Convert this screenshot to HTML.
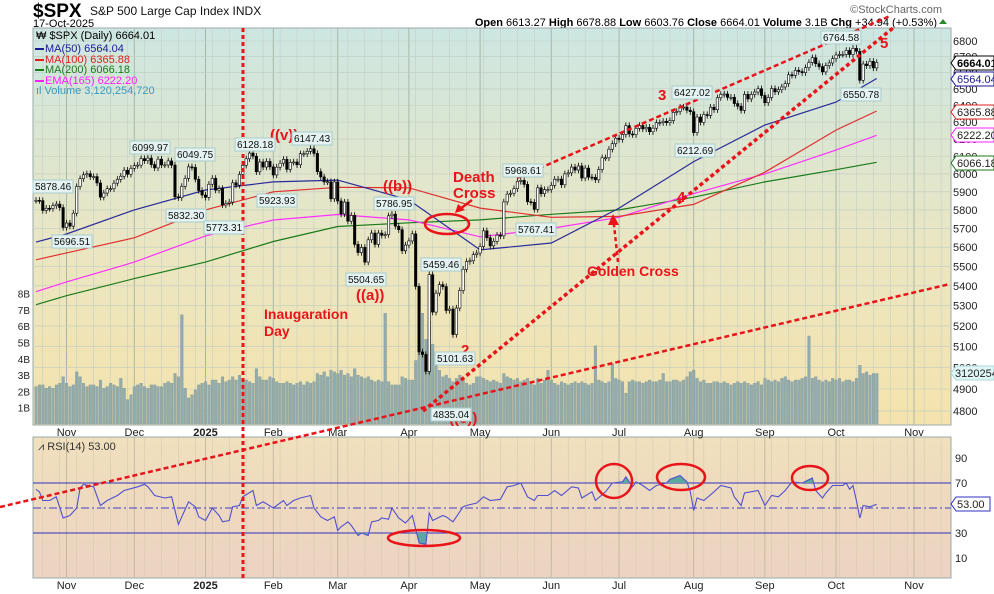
<!DOCTYPE html>
<html><head><meta charset="utf-8"><style>
html,body{margin:0;padding:0;background:#fff;}
svg{display:block;font-family:"Liberation Sans",sans-serif;}
</style></head><body>
<svg id="chart" width="994" height="594" viewBox="0 0 994 594" xmlns="http://www.w3.org/2000/svg">
<defs>
<linearGradient id="pbg" x1="0" y1="0" x2="0" y2="1"><stop offset="0" stop-color="#cde6e2"/><stop offset="0.55" stop-color="#eae6c2"/><stop offset="1" stop-color="#f5e3ad"/></linearGradient>
<linearGradient id="rbg" x1="0" y1="0" x2="0" y2="1"><stop offset="0" stop-color="#f0e0bd"/><stop offset="1" stop-color="#ecd3c2"/></linearGradient>
<clipPath id="pclip"><rect x="33" y="28" width="918" height="397"/></clipPath>
<clipPath id="rclip"><rect x="33" y="437" width="918" height="141"/></clipPath>
<clipPath id="above70"><rect x="33" y="437" width="918" height="46"/></clipPath>
<clipPath id="below30"><rect x="33" y="533" width="918" height="45"/></clipPath>
</defs>
<g>
<text x="33" y="17" font-size="19" font-weight="bold" fill="#000">$SPX</text>
<text x="90" y="15" font-size="12" fill="#111">S&amp;P 500 Large Cap Index  INDX</text>
<text x="33" y="27" font-size="11" fill="#000">17-Oct-2025</text>
<text x="942" y="13" font-size="11" fill="#666" text-anchor="end">©StockCharts.com</text>
<text x="937" y="26" font-size="11" fill="#000" text-anchor="end"><tspan font-weight="bold">Open</tspan> 6613.27  <tspan font-weight="bold">High</tspan> 6678.88  <tspan font-weight="bold">Low</tspan> 6603.76  <tspan font-weight="bold">Close</tspan> 6664.01  <tspan font-weight="bold">Volume</tspan> 3.1B  <tspan font-weight="bold">Chg</tspan> +34.94 (+0.53%)</text>
<polygon points="939,24 947,24 943,19" fill="#2a8a2a"/>
</g>
<rect x="33" y="28" width="918" height="397" fill="url(#pbg)" stroke="#9aa9a9"/>
<rect x="33" y="437" width="918" height="141" fill="url(#rbg)" stroke="#9aa9a9"/>
<g id="grid"></g>
<g id="vol" clip-path="url(#pclip)"></g>
<g id="mas" clip-path="url(#pclip)"></g>
<g id="candles" clip-path="url(#pclip)"></g>
<g id="rsi" clip-path="url(#rclip)"></g>
<g id="axes"></g>
<g font-size="11">
<text x="36" y="39" fill="#000">₩ $SPX (Daily) 6664.01</text>
<line x1="35" y1="49" x2="44" y2="49" stroke="#1a1a9a" stroke-width="2"/><text x="45" y="52" fill="#1a1a9a">MA(50) 6564.04</text>
<line x1="35" y1="60" x2="44" y2="60" stroke="#e02020" stroke-width="2"/><text x="45" y="63" fill="#e02020">MA(100) 6365.88</text>
<line x1="35" y1="70" x2="44" y2="70" stroke="#1a7a1a" stroke-width="2"/><text x="45" y="73" fill="#1a7a1a">MA(200) 6066.18</text>
<line x1="35" y1="81" x2="44" y2="81" stroke="#ff20ff" stroke-width="2"/><text x="45" y="84" fill="#ff20ff">EMA(165) 6222.20</text>
<text x="36" y="94" fill="#3a9ac0">ıl Volume 3,120,254,720</text>
</g>
<text x="38" y="450" font-size="11" fill="#333">⩘ RSI(14) 53.00</text>
<g id="annotations">
<line x1="243" y1="28" x2="243" y2="578" stroke="#e8141a" stroke-width="3" stroke-dasharray="4,3"/>
<line x1="0" y1="507" x2="950" y2="284" stroke="#e8141a" stroke-width="2.5" stroke-dasharray="5,3"/>
<line x1="423" y1="411" x2="893" y2="28" stroke="#e8141a" stroke-width="3.5" stroke-dasharray="4,3"/>
<line x1="517" y1="178" x2="890" y2="16" stroke="#e8141a" stroke-width="2.5" stroke-dasharray="5,3"/>
<ellipse cx="447" cy="224" rx="22" ry="10" fill="none" stroke="#e8141a" stroke-width="2.5"/>
<ellipse cx="424" cy="538" rx="36" ry="8" fill="none" stroke="#e8141a" stroke-width="2.5"/>
<ellipse cx="614" cy="481" rx="18" ry="17" fill="none" stroke="#e8141a" stroke-width="2.5"/>
<ellipse cx="681" cy="477" rx="24" ry="13" fill="none" stroke="#e8141a" stroke-width="2.5"/>
<ellipse cx="810" cy="478" rx="18" ry="12" fill="none" stroke="#e8141a" stroke-width="2.5"/>
<line x1="472" y1="200" x2="460" y2="209" stroke="#e8141a" stroke-width="2.5"/>
<polygon points="455,213 458,204 465,210" fill="#e8141a"/>
<line x1="618" y1="262" x2="614" y2="225" stroke="#e8141a" stroke-width="2.5" stroke-dasharray="4,3"/>
<polygon points="613,214 608,225 619,225" fill="#e8141a"/>
<g font-weight="bold" fill="#e8141a" font-size="14">
<text x="453" y="182" font-size="15">Death</text>
<text x="453" y="198" font-size="15">Cross</text>
<text x="587" y="276">Golden Cross</text>
<text x="264" y="319">Inaugaration</text>
<text x="264" y="336">Day</text>
<text x="270" y="140" font-size="15">((v))</text>
<text x="383" y="191" font-size="15">((b))</text>
<text x="356" y="300" font-size="15">((a))</text>
<text x="449" y="423" font-size="15">((c))</text>
<text x="435" y="268" font-size="15">1</text>
<text x="461" y="355" font-size="15">2</text>
<text x="658" y="100" font-size="15">3</text>
<text x="677" y="202" font-size="15">4</text>
<text x="880" y="48" font-size="15">5</text>
</g>
<g font-size="10" fill="#111">
<g><rect x="33" y="180" width="40" height="13" fill="#e4f2f2" stroke="#a8cccc"/><text x="35" y="190">5878.46</text></g>
<g><rect x="52" y="235" width="40" height="13" fill="#e4f2f2" stroke="#a8cccc"/><text x="54" y="245">5696.51</text></g>
<g><rect x="130" y="141" width="40" height="13" fill="#e4f2f2" stroke="#a8cccc"/><text x="132" y="151">6099.97</text></g>
<g><rect x="175" y="148" width="40" height="13" fill="#e4f2f2" stroke="#a8cccc"/><text x="177" y="158">6049.75</text></g>
<g><rect x="166" y="209" width="40" height="13" fill="#e4f2f2" stroke="#a8cccc"/><text x="168" y="219">5832.30</text></g>
<g><rect x="204" y="221" width="40" height="13" fill="#e4f2f2" stroke="#a8cccc"/><text x="206" y="231">5773.31</text></g>
<g><rect x="235" y="138" width="40" height="13" fill="#e4f2f2" stroke="#a8cccc"/><text x="237" y="148">6128.18</text></g>
<g><rect x="257" y="194" width="40" height="13" fill="#e4f2f2" stroke="#a8cccc"/><text x="259" y="204">5923.93</text></g>
<g><rect x="292" y="132" width="40" height="13" fill="#e4f2f2" stroke="#a8cccc"/><text x="294" y="142">6147.43</text></g>
<g><rect x="374" y="197" width="40" height="13" fill="#e4f2f2" stroke="#a8cccc"/><text x="376" y="207">5786.95</text></g>
<g><rect x="346" y="273" width="40" height="13" fill="#e4f2f2" stroke="#a8cccc"/><text x="348" y="283">5504.65</text></g>
<g><rect x="421" y="258" width="40" height="13" fill="#e4f2f2" stroke="#a8cccc"/><text x="423" y="268">5459.46</text></g>
<g><rect x="435" y="352" width="40" height="13" fill="#e4f2f2" stroke="#a8cccc"/><text x="437" y="362">5101.63</text></g>
<g><rect x="431" y="408" width="40" height="13" fill="#e4f2f2" stroke="#a8cccc"/><text x="433" y="418">4835.04</text></g>
<g><rect x="503" y="164" width="40" height="13" fill="#e4f2f2" stroke="#a8cccc"/><text x="505" y="174">5968.61</text></g>
<g><rect x="516" y="223" width="40" height="13" fill="#e4f2f2" stroke="#a8cccc"/><text x="518" y="233">5767.41</text></g>
<g><rect x="672" y="86" width="40" height="13" fill="#e4f2f2" stroke="#a8cccc"/><text x="674" y="96">6427.02</text></g>
<g><rect x="675" y="144" width="40" height="13" fill="#e4f2f2" stroke="#a8cccc"/><text x="677" y="154">6212.69</text></g>
<g><rect x="821" y="31" width="40" height="13" fill="#e4f2f2" stroke="#a8cccc"/><text x="823" y="41">6764.58</text></g>
<g><rect x="841" y="88" width="40" height="13" fill="#e4f2f2" stroke="#a8cccc"/><text x="843" y="98">6550.78</text></g>
</g>
<g font-size="11">
<g><polygon points="951,63 956,56 994,56 994,70 956,70" fill="#fff" stroke="#000"/><text x="957" y="67" font-weight="bold" fill="#000">6664.01</text></g>
<g><polygon points="951,79 956,72 994,72 994,86 956,86" fill="#fff" stroke="#1a1a9a"/><text x="957" y="83" fill="#1a1a9a">6564.04</text></g>
<g><polygon points="951,112 956,105 994,105 994,119 956,119" fill="#fff" stroke="#e02020"/><text x="957" y="116" fill="#222">6365.88</text></g>
<g><polygon points="951,135 956,128 994,128 994,142 956,142" fill="#fff" stroke="#ff20ff"/><text x="957" y="139" fill="#222">6222.20</text></g>
<g><polygon points="951,163 956,156 994,156 994,170 956,170" fill="#fff" stroke="#1a7a1a"/><text x="957" y="167" fill="#222">6066.18</text></g>
<g><polygon points="951,373 956,366 994,366 994,380 956,380" fill="#e0f6f6" stroke="#a8d8d8"/><text x="955" y="377" fill="#222">3120254</text></g>
<g><polygon points="951,504 956,497 990,497 990,511 956,511" fill="#fff" stroke="#3030c0"/><text x="957" y="508" fill="#222">53.00</text></g>
</g>
</g>
</svg>
<script>
const closes=[
5853,5851,5797,5809,5808,5823,5832,5813,5705,
5729,5712,5782,5929,5973,5995,6001,5984,5985,5949,5870,5893,5917,5917,5948,5969,5987,6021,5998,6032,
6047,6050,6087,6075,6090,6053,6034,6084,6051,6051,6074,6050,5872,5867,5930,5975,6040,6037,5970,5907,5882,
5869,5942,5975,5909,5918,5827,5836,5843,5950,5937,5997,6049,6086,6119,6101,6012,6068,6039,6071,6040,
5994,6038,6061,6083,6026,6066,6068,6052,6115,6115,6129,6144,6117,6013,5983,5955,5956,5861,5955,
5849,5778,5843,5739,5770,5615,5572,5599,5522,5639,5675,5615,5675,5663,5667,5768,5777,5712,5693,5581,5611,
5633,5671,5397,5074,5062,4982,5457,5268,5363,5406,5396,5276,5283,5158,5288,5376,5485,5525,5529,5561,5569,
5604,5687,5650,5607,5631,5664,5660,5844,5887,5892,5917,5958,5964,5941,5845,5842,5803,5922,5889,5912,5912,
5936,5970,5971,5939,6000,6006,6039,6022,6045,5977,6033,5982,5981,5967,6025,6092,6092,6141,6173,6205,
6198,6227,6279,6230,6226,6263,6280,6260,6269,6243,6264,6297,6297,6305,6297,6309,6358,6363,6389,6390,6371,6362,
6238,6330,6299,6345,6340,6389,6374,6446,6466,6469,6449,6449,6411,6395,6370,6467,6439,6466,6481,6501,6460,
6416,6448,6502,6482,6495,6512,6532,6587,6584,6615,6607,6600,6631,6664,6694,6656,6638,6605,6644,6661,6688,
6711,6715,6715,6740,6714,6753,6735,6553,6654,6644,6671,6630,6664];
const volumes=[
2.3,2.4,2.4,2.2,2.3,2.2,2.4,2.5,2.9,
2.5,2.3,2.4,3.2,2.9,2.5,2.3,2.4,2.4,2.3,2.7,2.2,2.3,2.5,2.4,2.3,2.8,2.2,1.5,1.8,
2.3,2.4,2.5,2.3,2.2,2.4,2.4,2.3,2.3,2.5,2.6,2.5,3.1,2.9,6.7,2.2,1.6,1.8,2.1,2.4,2.5,
2.6,2.4,2.7,2.7,2.5,2.9,2.6,2.7,2.9,2.7,3.0,2.8,2.7,2.6,2.5,3.4,2.9,2.7,2.7,2.9,
2.8,2.6,2.5,2.5,2.6,2.5,2.4,2.5,2.6,2.4,2.6,2.5,2.6,3.1,3.0,3.2,2.9,3.3,3.2,
3.1,3.3,3.0,3.1,2.9,3.4,3.0,2.9,2.8,2.9,2.7,2.6,2.7,2.6,6.8,2.6,2.4,2.4,2.4,2.9,2.8,
2.7,2.7,3.9,5.0,6.8,5.2,6.3,4.9,3.8,3.3,2.9,3.0,2.8,2.6,2.8,3.0,2.7,2.5,2.4,2.5,2.9,
2.9,2.8,2.7,2.6,2.7,2.6,2.5,3.1,2.9,2.8,2.7,2.8,2.6,2.7,2.8,2.5,2.4,2.8,2.5,2.7,3.3,
2.7,2.5,2.4,2.6,2.5,2.4,2.5,2.6,2.5,2.6,2.5,2.4,2.5,4.8,2.7,2.6,2.5,2.6,3.7,2.8,
2.7,2.6,1.9,2.6,2.7,2.6,2.6,2.5,2.6,2.7,2.6,2.6,2.7,3.1,2.6,2.6,2.7,2.7,2.6,2.7,2.9,3.2,
3.3,2.8,2.6,2.7,2.5,2.5,2.6,2.6,2.5,2.6,2.5,2.4,2.5,2.6,2.5,2.6,2.5,2.4,2.5,2.6,2.4,
2.8,2.7,2.6,2.7,2.6,2.8,2.9,2.7,2.6,2.7,2.7,2.8,2.9,5.4,2.8,2.9,2.7,2.6,2.7,2.6,2.8,
2.7,2.8,2.6,2.7,2.7,2.6,2.8,3.6,3.1,3.2,3.0,3.1,3.1];
const monthDays=[0,9,29,50,70,89,110,131,152,172,194,215,236,248];
const monthLabels=["Nov","Dec","2025","Feb","Mar","Apr","May","Jun","Jul","Aug","Sep","Oct","Nov"];
const monthTickDays=[9,29,50,70,89,110,131,152,172,194,215,236,259];
const ma50=[5627,5670,5800,5910,5955,5965,5855,5586,5622,5810,6070,6283,6420,6564];
const ma100=[5534,5570,5650,5800,5900,5925,5922,5810,5760,5765,5830,6010,6253,6366];
const ma200=[5305,5350,5437,5522,5630,5710,5730,5746,5776,5800,5870,5955,6024,6066];
const ema165=[5370,5420,5522,5660,5745,5775,5746,5655,5700,5760,5890,6000,6136,6222];
const rsiDay=[0,1,2,4,6,8,10,12,13,14,17,19,21,24,26,30,32,33,35,38,40,42,43,45,47,48,50,52,54,55,57,58,60,61,64,65,67,70,73,74,76,78,81,82,84,86,88,89,90,92,93,95,96,98,99,101,102,104,105,107,109,111,113,115,116,117,120,121,123,126,127,130,132,134,137,139,141,143,145,147,148,151,153,155,158,160,161,164,165,168,170,173,174,176,177,179,181,183,186,187,190,192,193,194,195,197,200,202,205,206,208,209,213,215,217,219,221,223,226,229,230,232,233,235,238,239,240,241,242,243,244,246,247,248];
const rsiVal=[65,63,56,56,59,42,44,50,66,69,67,52,56,60,64,67,69,67,60,58,59,37,43,55,51,43,40,50,44,39,40,51,52,59,64,52,55,50,56,52,56,58,60,50,43,40,43,32,35,39,36,28,30,28,39,40,42,41,50,42,38,44,22,21,46,40,44,43,39,51,52,54,59,56,57,67,68,70,59,56,60,60,64,60,67,66,58,63,56,63,70,71,75,67,71,68,64,68,70,73,76,71,63,48,58,56,63,68,66,59,52,62,64,52,60,59,64,71,70,74,64,58,62,68,68,70,65,68,56,42,52,51,52,53];
const priceTicks=[4800,4900,5000,5100,5200,5300,5400,5500,5600,5700,5800,5900,6000,6100,6200,6300,6400,6500,6600,6700,6800];
const volTicks=[1,2,3,4,5,6,7,8];
const rsiTicks=[10,30,70,90];

const NS="http://www.w3.org/2000/svg";
const yP=p=>41+(Math.log(6800)-Math.log(p))*1062;
const xI=i=>36+i*3.39;
const yV=v=>424-v*16.3;
const yR=v=>533-(v-30)*1.25;
function mk(tag,attrs,parent){const e=document.createElementNS(NS,tag);for(const k in attrs)e.setAttribute(k,attrs[k]);parent.appendChild(e);return e;}
const grid=document.getElementById('grid');
for(let i=2;i<=268;i+=5){
 const gl=mk('line',{x1:xI(i),x2:xI(i),y1:28,y2:425,stroke:'#c4cfc4','stroke-width':0.6},grid);
 
 
 const gr=mk('line',{x1:xI(i),x2:xI(i),y1:437,y2:578,stroke:'#d8c8b0','stroke-width':0.6},grid);
 
 
}
monthTickDays.forEach((d,k)=>{
 const x=xI(d);
 const g1=mk('line',{x1:x,x2:x,y1:28,y2:425,stroke:'#a8b8a8','stroke-width':1},grid);
 
 
 const g2=mk('line',{x1:x,x2:x,y1:437,y2:578,stroke:'#c8b8a0','stroke-width':1},grid);
 
 
 [436,589].forEach(yy=>{
  const t=mk('text',{x:x,y:yy,'font-size':11,'text-anchor':'middle',fill:'#222','font-weight':monthLabels[k]==='2025'?'bold':'normal'},grid);
  t.textContent=monthLabels[k];
  
  
 });
});
const axes=document.getElementById('axes');
priceTicks.forEach(p=>{
 const y=yP(p);
 const l=mk('line',{x1:33,x2:951,y1:y,y2:y,stroke:'#c0ccc0','stroke-width':0.6},grid);
 
 
 const t=mk('text',{x:953,y:y+4,'font-size':11,fill:'#222'},axes);
 t.textContent=p;
 
 
});
volTicks.forEach(v=>{
 const t=mk('text',{x:30,y:yV(v)+4,'font-size':10,fill:'#222','text-anchor':'end'},axes);
 t.textContent=v+'B';
 
 
});
rsiTicks.forEach(v=>{
 const t=mk('text',{x:955,y:yR(v)+4,'font-size':11,fill:'#222'},axes);
 t.textContent=v;
 
 
});
const vg=document.getElementById('vol');
volumes.forEach((v,i)=>{
 const r=mk('rect',{x:xI(i)-1.3,y:yV(v),width:2.7,height:424-yV(v),fill:'#93abab',stroke:'#7f9797','stroke-width':0.3},vg);
 
 
});
const mg=document.getElementById('mas');
[[ma200,'#1a7a1a','ma200-line'],[ema165,'#ff30ff','ema165-line'],[ma100,'#e03030','ma100-line'],[ma50,'#2a2a9a','ma50-line']].forEach(([arr,col,nm])=>{
 const pts=arr.map((v,k)=>xI(monthDays[k]).toFixed(1)+','+yP(v).toFixed(1)).join(' ');
 const pl=mk('polyline',{points:pts,fill:'none',stroke:col,'stroke-width':1.2},mg);
 
 
});
const cg=document.getElementById('candles');
closes.forEach((c,i)=>{
 const o=i?closes[i-1]:c;
 const hi=Math.max(o,c)*1.003, lo=Math.min(o,c)*0.997;
 const x=xI(i);
 const w=mk('line',{x1:x,x2:x,y1:yP(hi),y2:yP(lo),stroke:'#000','stroke-width':0.8},cg);
 
 
 const top=yP(Math.max(o,c)),bot=yP(Math.min(o,c));
 const b=mk('rect',{x:x-1.2,y:top,width:2.4,height:Math.max(1,bot-top),fill:c<o?'#000':'#fff',stroke:'#000','stroke-width':0.6},cg);
 
 
});
const rg=document.getElementById('rsi');
[[70,'#3030c0','rsi-overbought-line',''],[30,'#3030c0','rsi-oversold-line',''],[50,'#4040c0','rsi-midline','8,3,2,3']].forEach(([v,col,nm,da])=>{
 const l=mk('line',{x1:33,x2:951,y1:yR(v),y2:yR(v),stroke:col,'stroke-width':1,'stroke-dasharray':da},rg);
 
 
});
const rpts=rsiDay.map((d,k)=>xI(d).toFixed(1)+','+yR(rsiVal[k]).toFixed(1));
const fa=mk('polygon',{points:xI(rsiDay[0])+','+yR(70)+' '+rpts.join(' ')+' '+xI(rsiDay[rsiDay.length-1])+','+yR(70),fill:'#5aa8a0','clip-path':'url(#above70)'},rg);


const fb=mk('polygon',{points:xI(rsiDay[0])+','+yR(30)+' '+rpts.join(' ')+' '+xI(rsiDay[rsiDay.length-1])+','+yR(30),fill:'#5aa8a0','clip-path':'url(#below30)'},rg);


const rl=mk('polyline',{points:rpts.join(' '),fill:'none',stroke:'#5050d0','stroke-width':1.1},rg);


</script>
</body></html>
